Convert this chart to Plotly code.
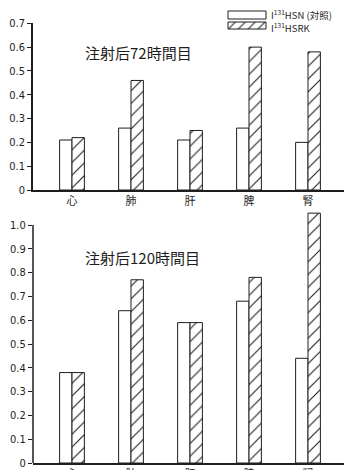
import plotly.graph_objects as go

categories = ["心", "肺", "肝", "脾", "腎"]
hsn_72 = [0.21, 0.26, 0.21, 0.26, 0.20]
hsrk_72 = [0.22, 0.46, 0.25, 0.60, 0.58]
hsn_120 = [0.38, 0.64, 0.59, 0.68, 0.44]
hsrk_120 = [0.38, 0.77, 0.59, 0.78, 1.05]
series_names = ["I<sup>131</sup>HSN (対照)", "I<sup>131</sup>HSRK"]
panel_titles = ["注射后72時間目", "注射后120時間目"]
ticks_top = [0, 0.1, 0.2, 0.3, 0.4, 0.5, 0.6, 0.7]
ticks_bottom = [0, 0.1, 0.2, 0.3, 0.4, 0.5, 0.6, 0.7, 0.8, 0.9, 1.0]

W, H = 344, 470
INK = "#1e1e1e"
CJK = "Noto Sans CJK JP"
NUM = "DejaVu Sans Condensed"

open_style = dict(color="white", line=dict(color=INK, width=1))
hatch_style = dict(color="white", line=dict(color=INK, width=1),
                   pattern=dict(shape="/", fgcolor=INK, bgcolor="white", size=9, solidity=0.12))

fig = go.Figure()
fig.add_bar(x=categories, y=hsn_72, marker=open_style, xaxis="x", yaxis="y", showlegend=False)
fig.add_bar(x=categories, y=hsrk_72, marker=hatch_style, xaxis="x", yaxis="y", showlegend=False)
fig.add_bar(x=categories, y=hsn_120, marker=open_style, xaxis="x2", yaxis="y2", showlegend=False)
fig.add_bar(x=categories, y=hsrk_120, marker=hatch_style, xaxis="x2", yaxis="y2", showlegend=False)

# legend swatches on an overlay pixel axis
lx0, lx1 = 228, 266
for (y0, y1), pat in [((11, 19), None), ((22, 29), "/")]:
    tr = go.Scatter(x=[lx0, lx1, lx1, lx0, lx0], y=[y0, y0, y1, y1, y0], mode="lines",
                    fill="toself", fillcolor="white", line=dict(color=INK, width=1),
                    xaxis="x3", yaxis="y3", showlegend=False, hoverinfo="skip")
    if pat:
        tr.fillpattern = dict(shape=pat, fgcolor=INK, bgcolor="white", size=7, solidity=0.15)
    fig.add_trace(tr)

xr = [(33 - 72) / 59, (344 - 72) / 59]
xdom = [33 / W, 1]
common_x = dict(domain=xdom, range=xr, showline=True, linecolor=INK, linewidth=1.5,
                ticks="", showgrid=False, zeroline=False, automargin=False,
                tickfont=dict(family=CJK, size=11, color=INK))
common_y = dict(showgrid=False, zeroline=False, ticks="outside", ticklen=4, tickcolor=INK,
                tickwidth=1, automargin=False, tickfont=dict(family=NUM, size=11, color=INK))

fig.update_layout(
    width=W, height=H, margin=dict(l=0, r=0, t=0, b=0),
    paper_bgcolor="white", plot_bgcolor="rgba(0,0,0,0)", template="none",
    barmode="group", bargap=0.58, bargroupgap=0,
    xaxis=dict(anchor="y", **common_x),
    yaxis=dict(anchor="x", domain=[(H - 190) / H, (H - 23.3) / H], range=[0, 0.7],
               tickvals=ticks_top, ticktext=["0" if v == 0 else f"{v:.1f}" for v in ticks_top],
               showline=True, linecolor=INK, linewidth=1.5, **common_y),
    xaxis2=dict(anchor="y2", **common_x),
    yaxis2=dict(anchor="x2", domain=[(H - 463) / H, (H - 206) / H], range=[0, 1.08],
                tickvals=ticks_bottom, ticktext=["0" if v == 0 else f"{v:.1f}" for v in ticks_bottom],
                showline=False, **common_y),
    xaxis3=dict(domain=[0, 1], range=[0, W], visible=False, anchor="y3"),
    yaxis3=dict(domain=[0, 1], range=[H, 0], visible=False, anchor="x3"),
)

fig.add_shape(type="line", xref="paper", x0=33 / W, x1=33 / W, yref="y2", y0=0, y1=1.0,
              line=dict(color=INK, width=1.5))

fig.add_annotation(text=panel_titles[0], xref="paper", yref="paper", x=83 / W, y=(H - 52) / H,
                   xanchor="left", yanchor="middle", showarrow=False,
                   font=dict(family=CJK, size=15, color=INK))
fig.add_annotation(text=panel_titles[1], xref="paper", yref="paper", x=83 / W, y=(H - 257) / H,
                   xanchor="left", yanchor="middle", showarrow=False,
                   font=dict(family=CJK, size=15, color=INK))
for name, yc in zip(series_names, [14, 27]):
    fig.add_annotation(text=name, xref="paper", yref="paper", x=269 / W, y=(H - yc) / H,
                       xanchor="left", yanchor="middle", showarrow=False,
                       font=dict(family=CJK, size=9.5, color=INK))

fig.write_html("out.html")
